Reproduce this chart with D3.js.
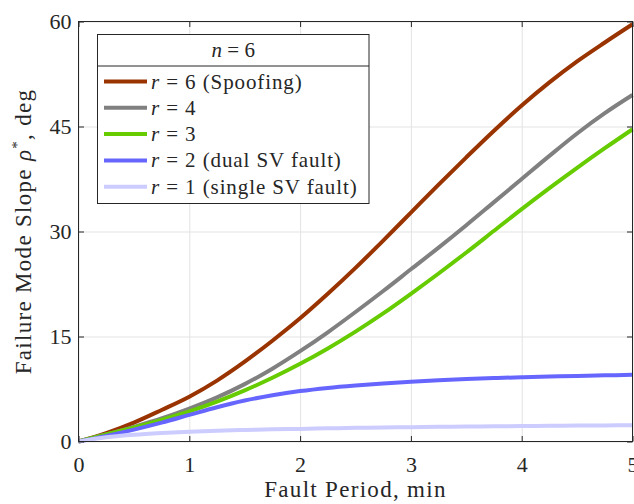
<!DOCTYPE html>
<meta charset="utf-8">
<style>
  body { margin: 0; background: #fff; }
  svg, .tick text { font-family: "Liberation Serif", "Times New Roman", serif; }
  .tick text { font-size: 22px; fill: #262626; }
  .grid line { stroke: #e3e3e3; stroke-width: 1; }
  .grid path { display: none; }
</style>
<svg width="634" height="504"></svg>
<script src="https://cdn.jsdelivr.net/npm/d3@7/dist/d3.min.js"></script>
<script>

// fault period (min)
var period = [0, 0.25, 0.5, 0.75, 1, 1.25, 1.5, 1.75, 2, 2.25, 2.5, 2.75, 3, 3.25, 3.5, 3.75, 4, 4.25, 4.5, 4.75, 5];

// failure mode slope (deg), one array per r
var r6 = [0, 1.2, 2.7, 4.5, 6.4, 8.7, 11.4, 14.4, 17.6, 21.1, 24.8, 28.7, 32.7, 36.7, 40.6, 44.4, 48.0, 51.3, 54.3, 57.0, 59.6];
var r4 = [0, 1.0, 2.1, 3.3, 4.7, 6.3, 8.2, 10.4, 12.9, 15.6, 18.5, 21.5, 24.6, 27.7, 30.9, 34.2, 37.5, 40.8, 44.0, 46.9, 49.5];
var r3 = [0, 1.0, 2.0, 3.1, 4.3, 5.7, 7.3, 9.1, 11.1, 13.3, 15.7, 18.3, 21.1, 24.0, 27.0, 30.1, 33.2, 36.2, 39.1, 41.9, 44.6];
var r2 = [0, 0.8, 1.7, 2.7, 3.8, 4.9, 5.85, 6.6, 7.2, 7.65, 8.0, 8.3, 8.55, 8.75, 8.92, 9.06, 9.18, 9.28, 9.37, 9.45, 9.52];
var r1 = [0, 0.6, 0.95, 1.2, 1.4, 1.55, 1.65, 1.75, 1.8, 1.88, 1.95, 2.0, 2.05, 2.1, 2.13, 2.17, 2.2, 2.24, 2.27, 2.3, 2.33];

var xTicks = [0, 1, 2, 3, 4, 5];
var yTicks = [0, 15, 30, 45, 60];

var series = [
  { r: "6", note: " (Spoofing)", color: "#993300", values: r6 },
  { r: "4", note: "", color: "#808080", values: r4 },
  { r: "3", note: "", color: "#66cc00", values: r3 },
  { r: "2", note: " (dual SV fault)", color: "#6666ff", values: r2 },
  { r: "1", note: " (single SV fault)", color: "#ccccff", values: r1 }
];

var svg = d3.select("svg");
var pl = 78.5, pr = 632.5, pt = 21.5, pb = 441.5;

var x = d3.scaleLinear().domain([0, 5]).range([pl, pr]);
var y = d3.scaleLinear().domain([0, 60]).range([pb, pt]);
var fmt = d3.format("d");

// grid
svg.append("g")
    .attr("class", "grid")
    .attr("transform", "translate(0," + pb + ")")
    .call(d3.axisBottom(x).tickValues(xTicks).tickSize(-(pb - pt)).tickFormat(""));
svg.append("g")
    .attr("class", "grid")
    .attr("transform", "translate(" + pl + ",0)")
    .call(d3.axisLeft(y).tickValues(yTicks).tickSize(-(pr - pl)).tickFormat(""));

// curves
var line = d3.line()
    .x(function(d, i) { return x(period[i]); })
    .y(function(d) { return y(d); })
    .curve(d3.curveMonotoneX);

svg.append("g").selectAll("path")
    .data(series)
  .enter().append("path")
    .attr("d", function(d) { return line(d.values); })
    .attr("fill", "none")
    .attr("stroke", function(d) { return d.color; })
    .attr("stroke-width", 4);

// axes, ticks inside
function style(g) {
  g.select(".domain").remove();
  g.selectAll(".tick line").attr("stroke", "#262626");
}
svg.append("g")
    .attr("transform", "translate(0," + pb + ")")
    .call(d3.axisBottom(x).tickValues(xTicks).tickFormat(fmt).tickSizeInner(-5.5).tickSizeOuter(0).tickPadding(15))
    .call(style);
svg.append("g")
    .attr("transform", "translate(0," + pt + ")")
    .call(d3.axisTop(x).tickValues(xTicks).tickSizeInner(-5.5).tickSizeOuter(0).tickFormat(""))
    .call(style);
svg.append("g")
    .attr("transform", "translate(" + pl + ",0)")
    .call(d3.axisLeft(y).tickValues(yTicks).tickFormat(fmt).tickSizeInner(-5.5).tickSizeOuter(0).tickPadding(7))
    .call(style);
svg.append("g")
    .attr("transform", "translate(" + pr + ",0)")
    .call(d3.axisRight(y).tickValues(yTicks).tickSizeInner(-5.5).tickSizeOuter(0).tickFormat(""))
    .call(style);

svg.append("rect")
    .attr("x", pl).attr("y", pt)
    .attr("width", pr - pl).attr("height", pb - pt)
    .attr("fill", "none").attr("stroke", "#262626").attr("stroke-width", 1);

// axis titles
svg.append("text")
    .attr("x", (pl + pr) / 2)
    .attr("y", 497)
    .attr("text-anchor", "middle")
    .style("font-size", "23px")
    .style("letter-spacing", "1.3px")
    .attr("fill", "#262626")
    .text("Fault Period, min");

var yt = svg.append("text")
    .attr("transform", "translate(31," + ((pt + pb) / 2) + ") rotate(-90)")
    .attr("text-anchor", "middle")
    .style("font-size", "23px")
    .style("letter-spacing", "1.3px")
    .attr("fill", "#262626");
yt.append("tspan").text("Failure Mode Slope ");
yt.append("tspan").style("font-style", "italic").text("\u03c1");
yt.append("tspan").attr("dy", -9).style("font-size", "15px").text("*");
yt.append("tspan").attr("dy", 9).text(", deg");

// legend
var lg = svg.append("g");
var lx0 = 97.5, lx1 = 369, ly0 = 34.5, ly1 = 203.5, lsep = 66;
lg.append("rect")
    .attr("x", lx0).attr("y", ly0)
    .attr("width", lx1 - lx0).attr("height", ly1 - ly0)
    .attr("fill", "#fff").attr("stroke", "#262626").attr("stroke-width", 1);
lg.append("line")
    .attr("x1", lx0).attr("x2", lx1).attr("y1", lsep).attr("y2", lsep)
    .attr("stroke", "#262626");

var lt = lg.append("text")
    .attr("x", (lx0 + lx1) / 2).attr("y", 57)
    .attr("text-anchor", "middle")
    .style("font-size", "21px")
    .attr("fill", "#262626");
lt.append("tspan").style("font-style", "italic").text("n");
lt.append("tspan").text(" = 6");

var rows = lg.selectAll(".row")
    .data(series)
  .enter().append("g")
    .attr("transform", function(d, i) { return "translate(0," + (81.5 + i * 26.3) + ")"; });
rows.append("line")
    .attr("x1", 104).attr("x2", 147)
    .attr("stroke", function(d) { return d.color; })
    .attr("stroke-width", 4);
var rt = rows.append("text")
    .attr("x", 151).attr("y", 7)
    .style("font-size", "21px")
    .style("letter-spacing", "0.9px")
    .attr("fill", "#262626");
rt.append("tspan").style("font-style", "italic").text("r");
rt.append("tspan").text(function(d) { return " = " + d.r + d.note; });

</script>
